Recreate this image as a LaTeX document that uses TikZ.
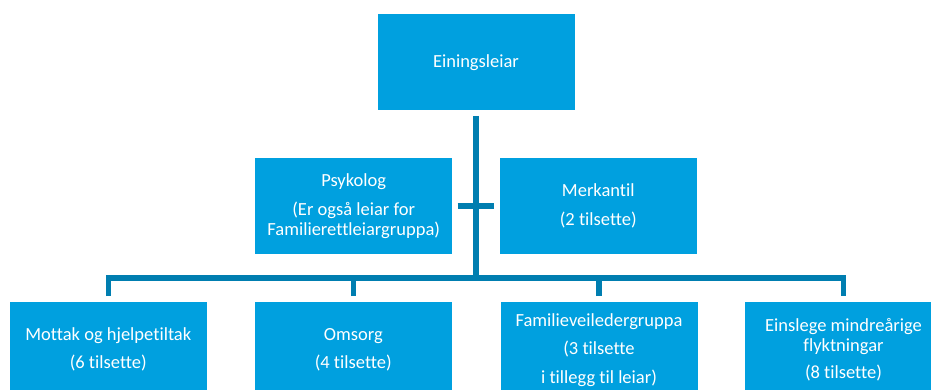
\documentclass[tikz,border=0pt]{standalone}
\usepackage{fontspec}
\setmainfont{Carlito}[Ligatures=NoCommon]
\usepackage{xcolor}
\definecolor{boxblue}{RGB}{0,160,223}
\definecolor{lineblue}{RGB}{0,126,176}
\tikzset{
	unit/.style={fill=boxblue, text=white, minimum width=197, minimum height=96,
		align=center, inner sep=0pt, outer sep=5.5pt,
		font=\fontsize{18.5}{20}\selectfont},
	conn/.style={draw=lineblue, line width=5.3pt, line join=miter}
}

\begin{document}
\begin{tikzpicture}[x=1pt,y=-1pt]
		\clip (0,0) rectangle (931,389);
		\node[unit] (leiar) at (476,62.4) {Einingsleiar};
		\node[unit] (psyk) at (353.7,206) {Psykolog\\[9pt](Er også leiar for\\Familierettleiargruppa)};
		\node[unit] (merk) at (598.3,206) {Merkantil\\[9pt](2 tilsette)};
		\node[unit] (mottak) at (108.3,349.7) {Mottak og hjelpetiltak\\[8pt](6 tilsette)};
		\node[unit] (omsorg) at (353.3,349.7) {Omsorg\\[8pt](4 tilsette)};
		\node[unit] (familie) at (599,349.7) {Familieveiledergruppa\\[8.5pt](3 tilsette\\[8.5pt]i tillegg til leiar)};
		\node[unit] (einsleg) at (843.5,349.7) {Einslege mindreårige\\flyktningar\\[7.5pt](8 tilsette)};
		\coordinate (bus) at (476,278);
		\draw[conn] (leiar.south) -- (bus);
		\draw[conn] (psyk.east) -- (merk.west);
		\draw[conn] (mottak.north) |- (bus) -| (einsleg.north);
		\draw[conn] (omsorg.north) -- (omsorg.north |- bus);
		\draw[conn] (familie.north) -- (familie.north |- bus);
\end{tikzpicture}
\end{document}
